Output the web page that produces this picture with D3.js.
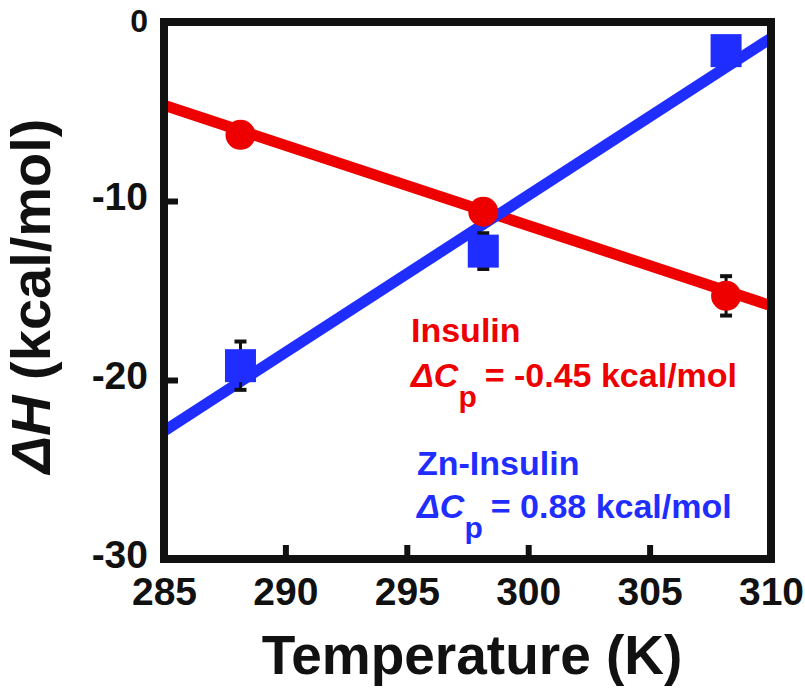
<!DOCTYPE html>
<html>
<head>
<meta charset="utf-8">
<script src="https://cdn.jsdelivr.net/npm/d3@7"></script>
<style>
  html, body { margin: 0; padding: 0; background: #fff; }
  svg { display: block; font-family: "Liberation Sans", Arial, Helvetica, sans-serif; font-weight: bold; }
</style>
</head>
<body>
<svg id="chart" width="805" height="694"></svg>
<script>
// ---- data ----
const temperatures = [288.15, 298.15, 308.15];
const insulinDH = [-6.3, -10.6, -15.3];
const insulinErr = [0.4, 0.5, 1.1];
const znInsulinDH = [-19.2, -12.8, -1.6];
const znInsulinErr = [1.35, 1.0, 0.5];
// fitted lines (temperature, ΔH) endpoints
const insulinFit = [[285, -4.65], [310, -15.85]];
const znInsulinFit = [[285, -22.85], [310, -0.9]];
const xTicks = [285, 290, 295, 300, 305, 310];
const yTicks = [0, -10, -20, -30];
const xLabel = "Temperature (K)";
const insulinLabel = "Insulin";
const insulinCp = "= -0.45 kcal/mol";
const znLabel = "Zn-Insulin";
const znCp = "= 0.88 kcal/mol";

const RED = "#ee0000";
const BLUE = "#1f2eff";

const svg = d3.select("#chart");
const x = d3.scaleLinear().domain([285, 310]).range([164, 771]);
const y = d3.scaleLinear().domain([-30, 0]).range([559, 22]);

svg.append("defs").append("clipPath").attr("id", "clip")
  .append("rect").attr("x", x(285)).attr("y", y(0)).attr("width", x(310) - x(285)).attr("height", y(-30) - y(0));

const plot = svg.append("g").attr("clip-path", "url(#clip)");
const line = d3.line().x(d => x(d[0])).y(d => y(d[1]));

plot.append("path").datum(insulinFit).attr("d", line)
  .attr("fill", "none").attr("stroke", RED).attr("stroke-width", 11);
plot.append("path").datum(znInsulinFit).attr("d", line)
  .attr("fill", "none").attr("stroke", BLUE).attr("stroke-width", 11);

// error bars
function errorBars(vals, errs) {
  const g = svg.append("g");
  temperatures.forEach((t, i) => {
    const cx = x(t), y1 = y(vals[i] + errs[i]), y2 = y(vals[i] - errs[i]);
    g.append("line").attr("x1", cx).attr("x2", cx).attr("y1", y1).attr("y2", y2)
      .attr("stroke", "#111").attr("stroke-width", 3);
    [y1, y2].forEach(yy => g.append("line").attr("x1", cx - 6).attr("x2", cx + 6)
      .attr("y1", yy).attr("y2", yy).attr("stroke", "#111").attr("stroke-width", 4));
  });
}
errorBars(insulinDH, insulinErr);
errorBars(znInsulinDH, znInsulinErr);

// markers
svg.append("g").selectAll("circle").data(temperatures).join("circle")
  .attr("cx", d => x(d)).attr("cy", (d, i) => y(insulinDH[i])).attr("r", 15).attr("fill", RED);
svg.append("g").selectAll("rect").data(temperatures).join("rect")
  .attr("x", d => x(d) - 15.5).attr("y", (d, i) => y(znInsulinDH[i]) - 16.5)
  .attr("width", 31).attr("height", 33).attr("fill", BLUE);

// frame
svg.append("rect").attr("x", x(285)).attr("y", y(0)).attr("width", x(310) - x(285)).attr("height", y(-30) - y(0))
  .attr("fill", "none").attr("stroke", "#111").attr("stroke-width", 8);

const fmt = d => String(d);

// ticks (inward)
const xAxis = svg.append("g").attr("transform", `translate(0,${y(-30)})`)
  .call(d3.axisBottom(x).tickValues(xTicks).tickSize(-14).tickFormat(fmt));
xAxis.select(".domain").remove();
xAxis.selectAll(".tick line").attr("stroke", "#111").attr("stroke-width", 6)
  .attr("display", d => (d === 285 || d === 310) ? "none" : null);
xAxis.selectAll(".tick text").attr("y", 46).attr("dy", null).attr("font-size", 39)
  .attr("font-family", "Liberation Sans, Arial, sans-serif").attr("font-weight", "bold").attr("fill", "#111");

const yAxis = svg.append("g").attr("transform", `translate(${x(285)},0)`)
  .call(d3.axisLeft(y).tickValues(yTicks).tickSize(-14).tickFormat(fmt));
yAxis.select(".domain").remove();
yAxis.selectAll(".tick line").attr("stroke", "#111").attr("stroke-width", 6)
  .attr("display", d => (d === 0 || d === -30) ? "none" : null);
yAxis.selectAll(".tick text").attr("x", -16).attr("dy", d => d === 0 ? 9 : 8)
  .attr("font-size", d => d === 0 ? 32 : 39)
  .attr("font-family", "Liberation Sans, Arial, sans-serif").attr("font-weight", "bold").attr("fill", "#111");

// axis titles
svg.append("text").attr("x", 472).attr("y", 674).attr("text-anchor", "middle")
  .attr("font-size", 55).attr("fill", "#111").text(xLabel);

const yt = svg.append("text").attr("transform", "translate(50,296) rotate(-90)")
  .attr("text-anchor", "middle").attr("font-size", 56).attr("fill", "#111");
yt.append("tspan").attr("font-style", "italic").text("ΔH");
yt.append("tspan").text(" (kcal/mol)");

// annotations
function annot(xp, yName, yCp, color, name, cpText) {
  svg.append("text").attr("x", xp).attr("y", yName).attr("font-size", 34).attr("fill", color).text(name);
  const t = svg.append("text").attr("x", xp).attr("y", yCp).attr("font-size", 34).attr("fill", color);
  t.append("tspan").attr("font-style", "italic").text("ΔC");
  t.append("tspan").attr("dy", 20).attr("font-size", 30).text("p");
  t.append("tspan").attr("dy", -20).attr("dx", 8).text(cpText);
}
annot(411, 342, 387, RED, insulinLabel, insulinCp);
annot(417, 475, 518, BLUE, znLabel, znCp);
</script>
</body>
</html>
